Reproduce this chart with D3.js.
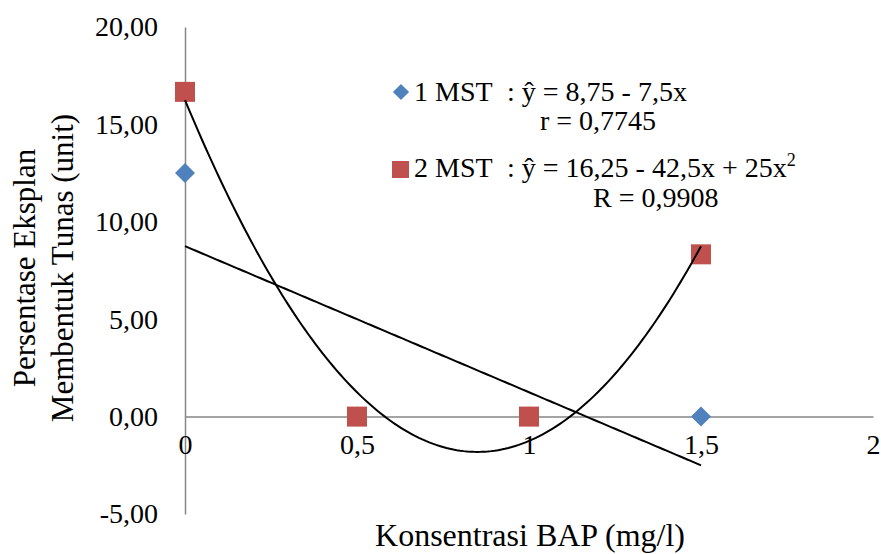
<!DOCTYPE html>
<html>
<head>
<meta charset="utf-8">
<script src="https://cdn.jsdelivr.net/npm/d3@7"></script>
<style>
  html, body { margin: 0; padding: 0; background: #fff; }
  svg { display: block; font-family: "Liberation Serif", "Times New Roman", serif; }
</style>
</head>
<body>
<svg id="chart" width="881" height="554"></svg>
<script>
// ---- data ----
const xValues = [0, 0.5, 1, 1.5];
const mst1Values = [12.5, 0, 0, 0];
const mst2Values = [16.67, 0, 0, 8.33];
const xTickValues = [0, 0.5, 1, 1.5, 2];
const yTickValues = [-5, 0, 5, 10, 15, 20];
const linearCoef = [8.75, -7.5];          // 1 MST trendline
const quadCoef = [16.25, -42.5, 25];      // 2 MST trendline
const seriesNames = ["1 MST", "2 MST"];
const eq1 = ": ŷ = 8,75 - 7,5x";
const r1 = "r = 0,7745";
const eq2 = ": ŷ = 16,25 - 42,5x + 25x";
const r2 = "R = 0,9908";
const xTitle = "Konsentrasi BAP (mg/l)";
const yTitleLines = ["Persentase Eksplan", "Membentuk Tunas (unit)"];

const colors = { mst1: "#4F81BD", mst2: "#C0504D", axis: "#868686", trend: "#000" };

const svg = d3.select("#chart");
const x = d3.scaleLinear().domain([0, 2]).range([185, 873]);
const y = d3.scaleLinear().domain([-5, 20]).range([514, 27]);

const loc = d3.formatLocale({ decimal: ",", thousands: ".", grouping: [3], currency: ["", ""], minus: "-" });
const yFmt = loc.format(".2f");
const xFmt = loc.format(".1~f");

// y axis
const yAxis = svg.append("g").attr("transform", `translate(${x(0)},0)`)
  .call(d3.axisLeft(y).tickValues(yTickValues).tickFormat(yFmt).tickSize(0).tickPadding(27));
yAxis.select(".domain").attr("stroke", colors.axis).attr("stroke-width", 1.5);
yAxis.selectAll("text").attr("font-size", 28).attr("fill", "#000")
  .attr("font-family", "Liberation Serif, Times New Roman, serif");

// x axis
const xAxis = svg.append("g").attr("transform", `translate(0,${y(0)})`)
  .call(d3.axisBottom(x).tickValues(xTickValues).tickFormat(xFmt).tickSize(0).tickPadding(18));
xAxis.select(".domain").attr("stroke", colors.axis).attr("stroke-width", 1.5);
xAxis.selectAll("text").attr("font-size", 28).attr("fill", "#000")
  .attr("font-family", "Liberation Serif, Times New Roman, serif");

// markers
const pts1 = xValues.map((v, i) => [v, mst1Values[i]]);
const pts2 = xValues.map((v, i) => [v, mst2Values[i]]);

svg.append("g").selectAll("path").data(pts1).join("path")
  .attr("d", d3.symbol().type(d3.symbolSquare).size(200))
  .attr("transform", d => `translate(${x(d[0])},${y(d[1])}) rotate(45)`)
  .attr("fill", colors.mst1);

const sq = 20;
svg.append("g").selectAll("rect").data(pts2).join("rect")
  .attr("x", d => x(d[0]) - sq / 2).attr("y", d => y(d[1]) - sq / 2)
  .attr("width", sq).attr("height", sq)
  .attr("fill", colors.mst2);

// trendlines
const xs = d3.range(0, 1.5001, 0.01);
const line = d3.line().x(d => x(d[0])).y(d => y(d[1]));
svg.append("path")
  .attr("d", line(xs.map(v => [v, linearCoef[0] + linearCoef[1] * v])))
  .attr("fill", "none").attr("stroke", colors.trend).attr("stroke-width", 2);
svg.append("path")
  .attr("d", line(xs.map(v => [v, quadCoef[0] + quadCoef[1] * v + quadCoef[2] * v * v])))
  .attr("fill", "none").attr("stroke", colors.trend).attr("stroke-width", 2);

// legend
const lg = svg.append("g").attr("font-size", 28).attr("fill", "#000");
lg.append("path").attr("d", d3.symbol().type(d3.symbolSquare).size(130))
  .attr("transform", "translate(401,92) rotate(45)").attr("fill", colors.mst1);
lg.append("text").attr("x", 414).attr("y", 101).text(seriesNames[0]);
lg.append("text").attr("x", 507).attr("y", 101).text(eq1);
lg.append("text").attr("x", 540).attr("y", 130).text(r1);

lg.append("rect").attr("x", 392).attr("y", 161).attr("width", 17).attr("height", 17).attr("fill", colors.mst2);
lg.append("text").attr("x", 414).attr("y", 177).text(seriesNames[1]);
const t2 = lg.append("text").attr("x", 507).attr("y", 177).text(eq2);
t2.append("tspan").attr("font-size", 18).attr("dy", -11).text("2");
lg.append("text").attr("x", 593).attr("y", 207).text(r2);

// axis titles
svg.append("text").attr("x", 530).attr("y", 546).attr("text-anchor", "middle")
  .attr("font-size", 32).text(xTitle);
const yt = svg.append("g").attr("transform", "translate(0,268) rotate(-90)");
yTitleLines.forEach((s, i) => {
  yt.append("text").attr("x", 0).attr("y", [24, 62][i]).attr("dy", "0.35em")
    .attr("text-anchor", "middle").attr("font-size", 31).text(s);
});
</script>
</body>
</html>
